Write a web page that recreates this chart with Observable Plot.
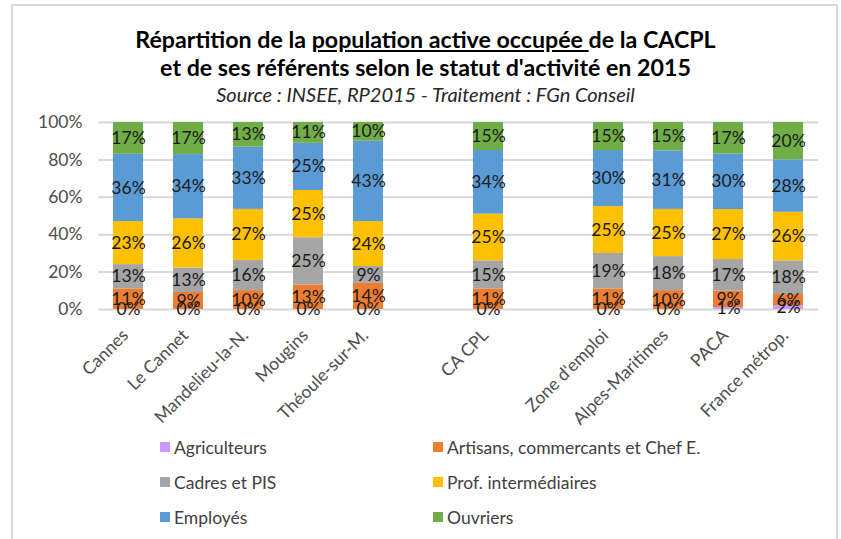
<!DOCTYPE html>
<html>
<head>
<meta charset="utf-8">
<script src="https://cdn.jsdelivr.net/npm/d3@7"></script>
<script src="https://cdn.jsdelivr.net/npm/@observablehq/plot@0.6"></script>
<style>
  body { margin: 0; background: #fff; }
  #wrap { position: relative; width: 841px; height: 539px; overflow: hidden; font-family: Lato, "Noto Sans", sans-serif; }
  #border { position: absolute; left: 11px; top: 4px; width: 827px; height: 560px; box-sizing: border-box; border: 2px solid #d9d9d9; }
  .title { position: absolute; left: 5px; width: 841px; text-align: center; color: #000; }
  #t1 { top: 25px; font-size: 23.2px; font-weight: bold; }
  #t2 { top: 53px; font-size: 23.2px; font-weight: bold; }
  #t3 { top: 82px; font-size: 20px; font-style: italic; color: #262626; }
  #chart { position: absolute; left: 0; top: 0; }
  .leg { position: absolute; font-size: 17.5px; color: #404040; display: flex; align-items: center; white-space: nowrap; }
  .sw { width: 10px; height: 10px; margin-right: 4px; display: inline-block; }
</style>
</head>
<body>
<div id="wrap">
  <div id="border"></div>
  <div class="title" id="t1">Répartition de la <u>population active occupée </u>de la CACPL</div>
  <div class="title" id="t2">et de ses référents selon le statut d'activité en 2015</div>
  <div class="title" id="t3">Source : INSEE, RP2015 - Traitement : FGn Conseil</div>
  <div id="chart"></div>
  <div id="legend"></div>
</div>
<script>
const categories = ["Cannes", "Le Cannet", "Mandelieu-la-N.", "Mougins", "Théoule-sur-M.", " ", "CA CPL", "  ", "Zone d'emploi", "Alpes-Maritimes", "PACA", "France métrop."];
const territories = ["Cannes", "Le Cannet", "Mandelieu-la-N.", "Mougins", "Théoule-sur-M.", "CA CPL", "Zone d'emploi", "Alpes-Maritimes", "PACA", "France métrop."];
const groups = ["Agriculteurs", "Artisans, commercants et Chef E.", "Cadres et PIS", "Prof. intermédiaires", "Employés", "Ouvriers"];
const colors = ["#cc99ff", "#ed7d31", "#a5a5a5", "#ffc000", "#5b9bd5", "#70ad47"];
const agriculteurs = [0, 0, 0, 0, 0, 0, 0, 0, 1, 2];
const artisans = [11, 9, 10, 13, 14, 11, 11, 10, 9, 6];
const cadres = [13, 13, 16, 25, 9, 15, 19, 18, 17, 18];
const profInter = [23, 26, 27, 25, 24, 25, 25, 25, 27, 26];
const employes = [36, 34, 33, 25, 43, 34, 30, 31, 30, 28];
const ouvriers = [17, 17, 13, 11, 10, 15, 15, 15, 17, 20];
const yTicks = [0, 0.2, 0.4, 0.6, 0.8, 1];

const series = [agriculteurs, artisans, cadres, profInter, employes, ouvriers];
const data = [];
territories.forEach((t, i) => {
  groups.forEach((g, j) => data.push({cat: t, group: g, value: series[j][i]}));
});

const chart = Plot.plot({
  width: 841,
  height: 430,
  marginTop: 122,
  marginBottom: 121,
  marginLeft: 98,
  marginRight: 23,
  style: {fontFamily: "Lato, 'Noto Sans', sans-serif", fontSize: "17.5px", color: "#4d4d4d", background: "transparent", overflow: "visible"},
  x: {domain: categories, paddingInner: 0.5, paddingOuter: 0.25, label: null},
  y: {domain: [0, 1], label: null},
  color: {domain: groups, range: colors},
  marks: [
    Plot.ruleY(yTicks, {stroke: "#d9d9d9", strokeWidth: 2}),
    Plot.axisY({ticks: yTicks, tickFormat: d => Math.round(d * 100) + "%", label: null, tickSize: 0, tickPadding: 16}),
    Plot.axisX({label: null, tickSize: 0, tickRotate: -45, tickPadding: 23, dx: -3, fontSize: 17.5}),
    Plot.barY(data, Plot.stackY({offset: "normalize", x: "cat", y: "value", z: "group", fill: "group"})),
    Plot.text(data, Plot.stackY({offset: "normalize", x: "cat", y: "value", z: "group", text: d => d.value + "%", fill: "#1a1a1a", fontSize: 17.5}))
  ]
});
document.getElementById("chart").appendChild(chart);

const legend = document.getElementById("legend");
const legPos = [[160, 447], [433, 447], [160, 482], [433, 482], [160, 517], [433, 517]];
groups.forEach((g, i) => {
  const el = document.createElement("div");
  el.className = "leg";
  el.style.left = legPos[i][0] + "px";
  el.style.top = (legPos[i][1] - 11) + "px";
  el.style.height = "22px";
  el.innerHTML = `<span class="sw" style="background:${colors[i]}"></span>${g}`;
  legend.appendChild(el);
});
</script>
</body>
</html>
